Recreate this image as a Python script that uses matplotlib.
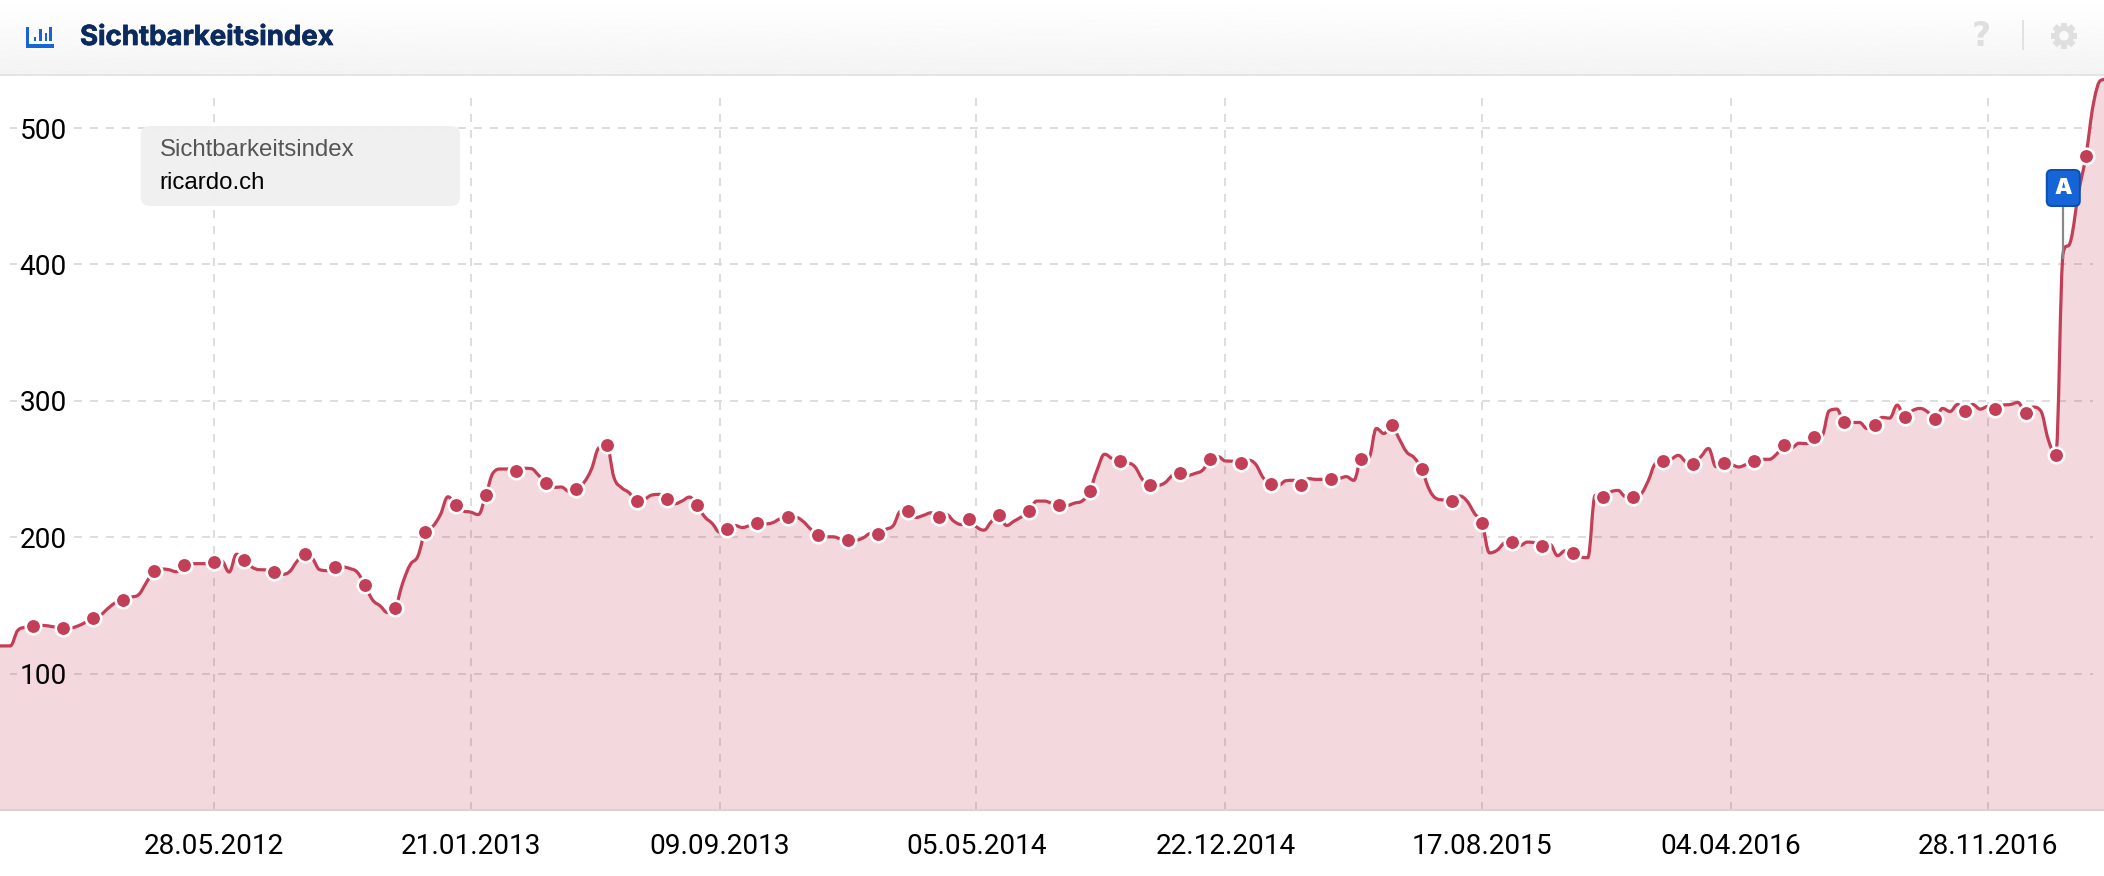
import numpy as np
import pandas as pd
import matplotlib
matplotlib.use("Agg")
import matplotlib.pyplot as plt
import matplotlib.dates as mdates
import matplotlib.patheffects as pe
from matplotlib.path import Path
from matplotlib.patches import FancyBboxPatch, Rectangle, PathPatch, Circle

W, H = 2104, 876
DPI = 100
px = 72 / DPI  # points per pixel

# ---- data -------------------------------------------------------------
series_name = "Sichtbarkeitsindex"
domain = "ricardo.ch"
first_week = "2011-11-07"
marker_start = 5
marker_step = 4
event_label = "A"
event_date = "2017-02-06"
event_value = 404
y_ticks = [100, 200, 300, 400, 500]
x_tick_labels = ["28.05.2012", "21.01.2013", "09.09.2013", "05.05.2014",
                 "22.12.2014", "17.08.2015", "04.04.2016", "28.11.2016"]
values = [
    120.3, 120.3, 120.3, 131.6, 134,
    135, 135.3, 135, 134,
    133.5, 133.5, 135, 137.7,
    140.9, 143.1, 148, 152.2,
    154.1, 156, 157.8, 166.4,
    175, 176.7, 176.2, 174.7,
    179.4, 180.6, 180.6, 180.6,
    182.1, 182.6, 174.5, 187.5,
    183.6, 178.2, 176.2, 176,
    174.7, 172.8, 174.7, 182.3,
    187.5, 184.8, 176.2, 175.5,
    177.9, 178.2, 177, 174.2,
    164.7, 154.1, 149.7, 144.8,
    148.3, 166.4, 179.9, 186,
    204.1, 208, 216.6, 229.6,
    223.3, 219.3, 218.4, 216.6,
    230.6, 247.3, 250, 250,
    248.5, 250.5, 250.3, 245.4,
    239.5, 236.5, 236.8, 233.8,
    235.1, 240, 249.8, 265.7,
    267.7, 243.6, 236.3, 232.6,
    226.3, 227.7, 230.9, 231.4,
    227.7, 224.5, 226.5, 229.4,
    223.3, 215, 210.1, 203.7,
    205.7, 208.6, 207.1, 208.6,
    210.1, 209.8, 210.6, 213.5,
    214.5, 214.7, 211.8, 206.2,
    201.5, 200.3, 200.3, 198.8,
    198.1, 197.8, 199.5, 202.7,
    202.7, 205.7, 208.6, 219.1,
    218.9, 214.5, 216, 217.9,
    214.7, 216.7, 211.8, 209.3,
    213.5, 207.6, 205.2, 211.5,
    216, 208.6, 211.8, 215,
    218.9, 226.5, 226.5, 224.8,
    223.3, 223.3, 225, 226.5,
    233.8, 249.3, 260.8, 257.6,
    255.9, 254.7, 251.7, 242.4,
    238, 238, 240, 245.4,
    246.8, 245.4, 246.8, 249.3,
    257.1, 259.1, 255.9, 255.7,
    254.2, 256.4, 253.5, 243.6,
    239.2, 238, 241.4, 241.7,
    238, 242.9, 242.4, 242.4,
    242.4, 242.9, 244.4, 241.7,
    257.1, 258.3, 279.7, 276,
    282.1, 272.3, 262.5, 258.3,
    249.8, 235, 228.2, 227.2,
    226.3, 230.2, 226.5, 217.4,
    210.1, 188.5, 190.5, 195.9,
    196.8, 193.9, 196.4, 195.9,
    193.9, 194.6, 186.5, 190,
    188.2, 185.6, 185, 230.7,
    229.4, 233.1, 234.3, 229.7,
    229.4, 231.4, 241.2, 254.2,
    255.9, 257.1, 260, 255.2,
    254, 259.1, 265, 251.7,
    254.2, 253.4, 251.5, 253.4,
    255.9, 257.1, 257.1, 260.8,
    267.4, 265.7, 268.9, 268.6,
    273.5, 274.3, 292.7, 293.9,
    284.1, 284.1, 284.1, 279.7,
    282.1, 287.8, 287.3, 296.8,
    288, 292.7, 294.4, 292,
    286.5, 294.4, 292.2, 297.3,
    292.7, 297.3, 293.9, 295.8,
    293.9, 296.8, 297.3, 298.8,
    291.2, 295.4, 292.7, 271.8,
    260.3, 409, 417.7, 452,
    479.7, 518, 535, 536,
]

# ---- styles -----------------------------------------------------------
RED = "#c33e57"
FILL = "#f4d8de"
GRID = "#dddddd"
NAVY = "#0b2a5e"
BLUE = "#1565d8"
ICON = "#dfdfdf"
PX_PER_UNIT = 1.364


def spline_vertices(xs, ys, smoothing=1.5):
    """Cubic Bezier segments through every point, as a spline chart draws them."""
    xs, ys = np.asarray(xs, float), np.asarray(ys, float)
    verts = [(xs[0], ys[0])]
    codes = [Path.MOVETO]
    d = smoothing + 1
    right = (xs[0], ys[0])
    for i in range(1, len(xs)):
        if i < len(xs) - 1:
            lx, ly = (smoothing * xs[i] + xs[i - 1]) / d, (smoothing * ys[i] + ys[i - 1]) / d
            rx, ry = (smoothing * xs[i] + xs[i + 1]) / d, (smoothing * ys[i] + ys[i + 1]) / d
            c = (ry - ly) * (rx - xs[i]) / (rx - lx) + ys[i] - ry
            ly, ry = ly + c, ry + c
            if (ly > ys[i - 1] and ly > ys[i]) or (ly < ys[i - 1] and ly < ys[i]):
                ly = max(ys[i - 1], ys[i]) if ly > ys[i] else min(ys[i - 1], ys[i])
                ry = 2 * ys[i] - ly
            if (ry > ys[i + 1] and ry > ys[i]) or (ry < ys[i + 1] and ry < ys[i]):
                ry = max(ys[i + 1], ys[i]) if ry > ys[i] else min(ys[i + 1], ys[i])
                ly = 2 * ys[i] - ry
        else:
            lx, ly = xs[i], ys[i]
            rx, ry = xs[i], ys[i]
        verts += [right, (lx, ly), (xs[i], ys[i])]
        codes += [Path.CURVE4] * 3
        right = (rx, ry)
    return verts, codes


dates = pd.date_range(first_week, periods=len(values), freq="7D")
x = mdates.date2num(dates)
tick_dates = pd.to_datetime(x_tick_labels, format="%d.%m.%Y")
tick_x = mdates.date2num(tick_dates)

fig = plt.figure(figsize=(W / DPI, H / DPI), dpi=DPI, facecolor="white")
AX_TOP, AX_BOT = 76.0, 810.0
ax = fig.add_axes([0, 1 - AX_BOT / H, 1, (AX_BOT - AX_TOP) / H])
ax.set_facecolor("none")
ax.set_ylim(0, (AX_BOT - AX_TOP) / PX_PER_UNIT)
days_per_px = (tick_x[-1] - tick_x[0]) / 1773.8
ax.set_xlim(tick_x[0] - 214 * days_per_px, tick_x[0] + (W - 214) * days_per_px)

for s in ("top", "left", "right"):
    ax.spines[s].set_visible(False)
ax.spines["bottom"].set_color("#d8d2d4")
ax.spines["bottom"].set_linewidth(2 * px)

dash = (0, (4, 4))
for v in y_ticks:
    ax.axhline(v, xmin=10 / W, xmax=2093 / W, color=GRID, lw=2 * px,
               ls=dash, zorder=0.5, dash_capstyle="butt")
for t in tick_x:
    ax.axvline(t, ymin=0, ymax=(AX_BOT - 96) / (AX_BOT - AX_TOP), color=GRID,
               lw=2 * px, ls=dash, zorder=0.5, dash_capstyle="butt")

verts, codes = spline_vertices(x, values)
fill_verts = verts + [(x[-1], 0), (x[0], 0), verts[0]]
fill_codes = codes + [Path.LINETO, Path.LINETO, Path.CLOSEPOLY]
ax.add_patch(PathPatch(Path(fill_verts, fill_codes), fc=RED, alpha=0.2, ec="none", zorder=1))
ax.add_patch(PathPatch(Path(verts, codes), fc="none", ec=RED, lw=3.2 * px, zorder=2,
                       joinstyle="round", capstyle="round"))
ax.plot(x, values, ls="none", marker="o", markevery=(marker_start, marker_step),
        ms=15.5 * px, mfc=RED, mec="white", mew=2.6 * px, zorder=3)

ax.set_axisbelow(False)
ax.set_xticks(tick_x)
ax.set_xticklabels(x_tick_labels, fontfamily="Roboto", fontsize=28 * px, color="black")
ax.tick_params(axis="x", length=0, pad=23 * px)
ax.set_yticks(y_ticks)
ax.set_yticklabels([str(v) for v in y_ticks], fontfamily="Roboto",
                   fontsize=28 * px, color="black")
ax.tick_params(axis="y", length=0, pad=-67 * px)
for lab, v in zip(ax.get_yticklabels(), y_ticks):
    lab.set_bbox(dict(facecolor=FILL if v == 100 else "white", edgecolor="none",
                      boxstyle="square,pad=0.1"))

# ---- page furniture, in pixel coordinates ------------------------------
ov = fig.add_axes([0, 0, 1, 1], zorder=5)
ov.axis("off")
ov.patch.set_alpha(0)

grad = np.linspace(1, 0.955, 64).reshape(-1, 1)
ov.imshow(grad, extent=(0, W, 74, 0), cmap="gray", vmin=0, vmax=1, aspect="auto", zorder=1)
ov.set_xlim(0, W)
ov.set_ylim(H, 0)
ov.add_patch(Rectangle((0, 74), W, 2, fc="#e4e4e4", ec="none", zorder=2))

# header icon
for (x0, y0, w, h) in [(26, 27, 3.2, 21), (26, 44, 28, 3.6), (33.5, 36.7, 2.6, 4),
                       (39.2, 29.3, 2.6, 11.4), (44.5, 33.3, 2.6, 7.4), (49.2, 27.3, 2.6, 13.4)]:
    ov.add_patch(Rectangle((x0, y0), w, h, fc=BLUE, ec="none", zorder=3))

ov.text(80, 38, series_name, family="Inter", weight="bold", fontsize=27.6 * px,
        color=NAVY, va="center", ha="left", zorder=3,
        path_effects=[pe.withStroke(linewidth=0.7 * px, foreground=NAVY)])

# header right icons
ov.text(1981.5, 36, "?", family="DejaVu Sans", weight="bold", fontsize=33 * px,
        color=ICON, ha="center", va="center", zorder=3)
ov.add_patch(Rectangle((2022, 20), 2, 30, fc="#e2e2e2", ec="none", zorder=3))

# gear: a ring with eight teeth
gx, gy = 2064, 35.7
for a in np.arange(8) * np.pi / 4:
    ca, sa = np.cos(a), np.sin(a)
    hw, r0, r1 = 3.2, 6, 13.2
    corners = [(-hw, r0), (hw, r0), (hw, r1), (-hw, r1), (-hw, r0)]
    ov.add_patch(PathPatch(Path([(gx + u * ca - v * sa, gy + u * sa + v * ca) for u, v in corners]),
                           fc=ICON, ec="none", zorder=3))
ov.add_patch(Circle((gx, gy), 10, fc=ICON, ec="none", zorder=3))
ov.add_patch(Circle((gx, gy), 4.8, fc="#f9f9f9", ec="none", zorder=3))

# tooltip
ov.add_patch(FancyBboxPatch((148.6, 134), 303.4, 64, boxstyle="round,pad=8,rounding_size=9",
                            fc="#f0f0f0", ec="none", alpha=0.95, zorder=3))
ov.text(159.5, 150, series_name, family="Liberation Sans", fontsize=24 * px,
        color="#555555", va="center", ha="left", zorder=4)
ov.text(159.5, 183, domain, family="Liberation Sans", fontsize=24 * px,
        color="black", va="center", ha="left", zorder=4)

# event flag: stem from the value on the chart up to the flag
event_x = mdates.date2num(pd.Timestamp(event_date))
flag_x = (event_x - ax.get_xlim()[0]) / days_per_px
flag_y = AX_BOT - event_value * PX_PER_UNIT
ov.plot([flag_x, flag_x], [207, flag_y], color="#888888", lw=2.2 * px, zorder=3,
        solid_capstyle="butt")
ov.add_patch(FancyBboxPatch((flag_x - 13.5, 173), 27, 30, boxstyle="round,pad=3,rounding_size=5",
                            fc=BLUE, ec="#0d4fae", lw=2 * px, zorder=4))
ov.text(flag_x, 188.5, event_label, family="Inter", weight="black", fontsize=22 * px,
        color="white", ha="center", va="center", zorder=5)

fig.savefig("out.png", dpi=DPI, facecolor="white")
